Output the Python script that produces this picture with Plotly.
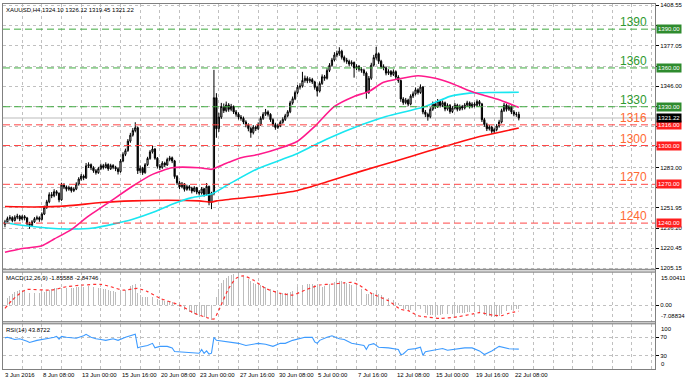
import plotly.graph_objects as go

# ---------------- text ----------------
symbol_title = "XAUUSD,H4 1324.10 1326.12 1319.45 1321.22"
macd_title = "MACD(12,26,9) -1.85588 -2.84746"
rsi_title = "RSI(14) 43.8722"
first_label = "3 Jun 2016"
time_labels = ["8 Jun 08:00", "13 Jun 00:00", "15 Jun 16:00", "20 Jun 08:00", "23 Jun 00:00",
               "27 Jun 16:00", "30 Jun 08:00", "5 Jul 00:00", "7 Jul 16:00", "12 Jul 08:00",
               "15 Jul 00:00", "19 Jul 16:00", "22 Jul 08:00"]

# ---------------- candles (H4) ----------------
opens = [1239.0,1241.0,1243.5,1244.2,1242.0,1244.5,1245.3,1243.1,1245.0,1244.0,
1239.5,1238.2,1241.0,1243.4,1244.1,1242.8,1247.0,1252.3,1256.5,1262.0,
1261.2,1264.3,1263.0,1258.0,1269.5,1268.0,1266.2,1267.4,1265.1,1266.3,
1270.2,1274.1,1276.4,1275.0,1284.3,1285.2,1282.8,1280.5,1279.0,1282.1,
1284.4,1283.0,1285.3,1282.0,1284.5,1283.2,1282.0,1279.8,1288.0,1293.2,
1296.0,1303.4,1308.0,1311.6,1313.8,1280.5,1282.4,1279.0,1285.2,1290.0,
1295.1,1297.3,1290.2,1284.0,1283.1,1286.4,1285.0,1289.2,1290.5,1288.1,
1276.0,1271.2,1268.0,1270.3,1266.1,1268.2,1267.0,1264.8,1267.3,1264.0,
1263.2,1266.5,1262.1,1268.4,1256.0,1263.0,1337.0,1313.0,1322.0,1330.2,
1327.0,1331.4,1328.0,1330.3,1326.0,1324.2,1322.0,1321.0,1318.2,1316.0,
1313.1,1310.0,1314.2,1313.0,1316.3,1321.0,1324.2,1326.0,1324.1,1320.0,
1316.2,1314.0,1315.3,1318.0,1320.2,1323.0,1326.1,1333.0,1336.2,1341.0,
1345.1,1346.0,1350.3,1352.0,1350.1,1351.0,1349.2,1345.0,1342.1,1348.0,
1353.2,1352.0,1358.1,1362.0,1366.2,1370.0,1371.1,1373.0,1368.2,1366.0,
1365.1,1363.0,1364.2,1360.0,1361.1,1359.0,1358.2,1356.0,1341.1,1352.0,
1362.2,1368.0,1371.0,1365.2,1361.0,1360.1,1356.0,1357.2,1355.0,1357.1,
1353.0,1350.2,1336.0,1333.2,1335.1,1332.0,1338.2,1340.0,1343.1,1341.0,
1345.2,1326.0,1324.1,1322.3,1328.0,1332.1,1330.0,1334.2,1331.0,1333.1,
1328.2,1331.0,1326.3,1329.0,1331.2,1328.0,1330.1,1329.0,1331.3,1333.0,
1330.2,1332.0,1331.1,1334.0,1332.2,1320.0,1316.3,1313.0,1314.2,1311.0,
1312.3,1315.0,1318.2,1327.0,1331.2,1328.0,1330.1,1326.0,1324.3,1324.10]

highs = [1242.5,1245.0,1246.1,1245.3,1246.0,1247.2,1246.4,1246.3,1246.2,1244.8,
1241.0,1242.3,1244.6,1245.8,1245.2,1248.3,1253.5,1258.0,1263.8,1264.0,
1266.2,1265.5,1263.8,1271.2,1270.8,1269.1,1268.9,1268.2,1267.8,1271.6,
1275.5,1278.0,1277.6,1286.5,1287.0,1286.1,1284.0,1281.8,1283.5,1286.0,
1285.8,1287.0,1286.2,1285.9,1285.6,1284.3,1283.0,1289.5,1294.8,1297.6,
1305.0,1309.8,1313.5,1318.0,1314.6,1284.6,1283.5,1286.4,1291.3,1296.5,
1300.2,1298.0,1291.1,1285.6,1287.9,1287.5,1290.6,1292.0,1291.5,1288.9,
1277.2,1272.5,1271.8,1271.0,1269.7,1269.4,1268.1,1268.6,1268.0,1265.5,
1267.9,1267.2,1271.0,1269.0,1264.2,1358.5,1340.5,1325.3,1333.0,1332.5,
1334.0,1332.8,1332.2,1331.0,1327.5,1325.6,1323.6,1322.4,1319.5,1317.2,
1314.3,1315.8,1315.4,1317.9,1322.6,1325.8,1328.3,1327.2,1325.0,1321.1,
1317.6,1316.9,1319.4,1321.8,1324.5,1327.4,1334.6,1337.9,1342.5,1346.8,
1348.2,1357.0,1354.1,1353.5,1352.8,1352.3,1350.1,1346.3,1349.6,1355.0,
1354.6,1359.8,1363.7,1367.8,1372.2,1373.4,1376.0,1374.1,1369.6,1367.8,
1366.4,1365.9,1365.0,1362.8,1362.3,1360.6,1359.4,1357.2,1353.8,1364.0,
1370.1,1376.3,1372.0,1366.3,1362.8,1361.2,1359.0,1358.4,1358.9,1358.0,
1354.4,1351.0,1337.4,1336.8,1336.2,1339.6,1341.8,1344.9,1344.3,1347.3,
1346.0,1327.5,1325.4,1329.6,1334.0,1333.5,1336.0,1335.3,1334.8,1334.0,
1332.6,1332.1,1330.5,1332.9,1332.3,1331.7,1331.4,1332.8,1334.6,1334.1,
1333.5,1333.4,1335.6,1335.2,1333.0,1321.4,1317.6,1315.9,1315.3,1313.9,
1316.6,1319.9,1328.5,1333.0,1332.4,1331.6,1331.0,1327.4,1326.0,1326.12]

lows = [1236.8,1240.2,1242.0,1240.6,1241.2,1243.0,1241.5,1242.2,1242.1,1237.9,
1235.6,1237.0,1240.1,1242.2,1241.0,1242.0,1246.2,1251.0,1255.4,1259.3,
1260.0,1261.2,1256.1,1257.2,1266.3,1264.5,1265.0,1263.6,1264.0,1265.5,
1269.0,1272.8,1273.2,1274.1,1282.6,1281.0,1278.9,1277.5,1278.1,1281.0,
1281.5,1282.2,1280.4,1281.1,1281.7,1280.2,1277.6,1279.0,1287.1,1291.8,
1295.2,1302.1,1306.9,1310.2,1278.0,1278.8,1277.3,1278.2,1284.1,1289.0,
1293.8,1289.0,1282.2,1281.0,1282.0,1283.3,1284.2,1287.8,1286.4,1274.3,
1269.6,1266.2,1266.9,1264.4,1265.0,1265.2,1263.0,1263.9,1262.3,1261.4,
1262.0,1260.5,1261.0,1253.8,1250.8,1261.5,1306.0,1310.5,1320.6,1325.2,
1325.8,1326.1,1326.5,1324.4,1322.3,1320.1,1319.2,1316.5,1314.1,1311.0,
1306.0,1308.6,1311.2,1312.0,1315.1,1319.8,1322.9,1322.4,1318.3,1314.5,
1312.2,1312.8,1314.2,1316.9,1319.0,1321.8,1325.0,1331.6,1335.1,1339.7,
1343.3,1344.8,1348.6,1348.2,1348.5,1347.6,1343.2,1338.0,1341.0,1346.9,
1350.1,1351.0,1356.8,1360.9,1365.0,1368.2,1369.4,1366.5,1364.3,1363.2,
1361.1,1361.6,1352.5,1358.4,1357.2,1356.3,1353.9,1336.2,1339.9,1350.8,
1361.0,1366.4,1363.1,1359.4,1358.2,1354.3,1354.6,1353.1,1353.8,1351.2,
1348.5,1333.8,1331.5,1331.9,1330.4,1331.1,1336.7,1338.8,1339.4,1340.0,
1324.2,1322.0,1319.2,1321.1,1326.8,1328.3,1329.0,1329.4,1329.7,1326.5,
1327.0,1324.6,1325.1,1327.8,1326.4,1326.8,1327.3,1327.9,1329.8,1328.6,
1328.9,1329.5,1330.0,1330.6,1318.2,1314.5,1311.2,1311.6,1309.0,1309.6,
1311.0,1313.8,1317.1,1325.9,1326.3,1326.7,1324.3,1322.6,1322.2,1319.45]

closes = [1241.0,1243.5,1244.2,1242.0,1244.5,1245.3,1243.1,1245.0,1244.0,1239.5,
1238.2,1241.0,1243.4,1244.1,1242.8,1247.0,1252.3,1256.5,1262.0,1261.2,
1264.3,1263.0,1258.0,1269.5,1268.0,1266.2,1267.4,1265.1,1266.3,1270.2,
1274.1,1276.4,1275.0,1284.3,1285.2,1282.8,1280.5,1279.0,1282.1,1284.4,
1283.0,1285.3,1282.0,1284.5,1283.2,1282.0,1279.8,1288.0,1293.2,1296.0,
1303.4,1308.0,1311.6,1313.8,1280.5,1282.4,1279.0,1285.2,1290.0,1295.1,
1297.3,1290.2,1284.0,1283.1,1286.4,1285.0,1289.2,1290.5,1288.1,1276.0,
1271.2,1268.0,1270.3,1266.1,1268.2,1267.0,1264.8,1267.3,1264.0,1263.2,
1266.5,1262.1,1268.4,1256.0,1263.0,1337.0,1313.0,1322.0,1330.2,1327.0,
1331.4,1328.0,1330.3,1326.0,1324.2,1322.0,1321.0,1318.2,1316.0,1313.1,
1310.0,1314.2,1313.0,1316.3,1321.0,1324.2,1326.0,1324.1,1320.0,1316.2,
1314.0,1315.3,1318.0,1320.2,1323.0,1326.1,1333.0,1336.2,1341.0,1345.1,
1346.0,1350.3,1352.0,1350.1,1351.0,1349.2,1345.0,1342.1,1348.0,1353.2,
1352.0,1358.1,1362.0,1366.2,1370.0,1371.1,1373.0,1368.2,1366.0,1365.1,
1363.0,1364.2,1360.0,1361.1,1359.0,1358.2,1356.0,1341.1,1352.0,1362.2,
1368.0,1371.0,1365.2,1361.0,1360.1,1356.0,1357.2,1355.0,1357.1,1353.0,
1350.2,1336.0,1333.2,1335.1,1332.0,1338.2,1340.0,1343.1,1341.0,1345.2,
1326.0,1324.1,1322.3,1328.0,1332.1,1330.0,1334.2,1331.0,1333.1,1328.2,
1331.0,1326.3,1329.0,1331.2,1328.0,1330.1,1329.0,1331.3,1333.0,1330.2,
1332.0,1331.1,1334.0,1332.2,1320.0,1316.3,1313.0,1314.2,1311.0,1312.3,
1315.0,1318.2,1327.0,1331.2,1328.0,1330.1,1326.0,1324.3,1324.1,1321.22]

# ---------------- moving averages (bar index, value) ----------------
ma_pink_idx = [0,6,15,20,27,33,43,52,60,68,79,84,86,91,96,103,112,119,126,134,142,148,154,160,168,175,181,188,194,201,208,209]
ma_pink_val = [1217.4,1220.0,1222.5,1227.7,1235.0,1244.0,1257.0,1268.7,1277.7,1282.8,1282.8,1281.6,1283.0,1287.0,1290.5,1293.0,
               1298.0,1303.3,1314.8,1330.2,1338.0,1341.8,1348.9,1351.5,1354.0,1352.0,1348.5,1343.0,1339.2,1335.4,1330.2,1329.5]
ma_cyan_idx = [0,6,15,27,36,44,52,60,68,76,84,91,103,118,131,145,155,171,181,189,198,209]
ma_cyan_val = [1240.5,1238.5,1236.6,1235.4,1236.2,1239.2,1243.0,1248.2,1254.6,1259.7,1262.5,1270.0,1282.3,1293.0,1305.0,
               1316.0,1322.5,1330.2,1338.0,1340.5,1341.0,1341.2]
ma_red_idx = [0,12,25,39,52,66,79,84,86,91,104,118,132,145,159,172,182,192,203,209]
ma_red_val = [1252.8,1252.5,1253.3,1255.9,1257.2,1257.7,1257.2,1256.3,1257.2,1258.3,1261.0,1264.8,1272.5,1280.2,1288.0,
              1295.6,1301.0,1306.4,1311.0,1313.5]

# ---------------- MACD ----------------
macd_main = [2.5,3.2,4.2,5.3,6.2,6.8,7.3,7.2,6.8,6.2,
5.6,5.5,5.6,5.7,5.6,5.8,6.2,6.7,7.3,7.5,
7.8,7.8,7.2,7.8,8.0,8.1,8.2,8.2,8.2,8.3,
8.5,8.6,8.6,8.9,9.0,8.9,8.6,8.2,8.0,7.9,
7.6,7.4,7.0,6.8,6.5,6.2,5.9,6.1,6.6,7.3,
8.2,9.0,9.5,9.7,5.8,4.6,3.9,3.7,3.7,3.8,
3.8,3.4,2.8,2.4,2.2,1.9,1.9,1.8,1.6,0.6,
-0.3,-1.1,-1.6,-2.3,-2.8,-3.3,-3.7,-4.0,-4.4,-4.8,
-5.0,-5.4,-5.5,-6.2,-7.08834,-1.5,3.9,7.6,10.2,11.6,
12.5,13.4,14.0,14.6,15.00411,14.8,14.4,13.8,13.0,12.2,
11.2,10.5,10.0,9.6,9.3,9.0,8.7,8.2,7.6,7.2,
6.6,6.2,5.8,5.6,5.6,5.6,6.0,6.8,7.5,8.3,
9.0,9.6,10.0,10.1,10.0,9.9,9.6,9.0,8.9,8.7,
8.8,9.2,9.7,10.2,10.8,11.2,11.2,11.1,10.8,10.4,
10.1,9.6,8.8,8.5,8.0,7.6,6.8,5.4,5.3,5.6,
5.8,5.6,5.0,4.6,4.0,3.5,3.1,2.6,2.2,1.6,
0.9,-0.6,-1.6,-2.0,-2.5,-2.4,-2.3,-2.0,-2.0,-1.8,
-3.0,-3.8,-4.4,-4.6,-4.6,-4.5,-4.4,-4.4,-4.3,-4.4,
-4.3,-4.4,-4.2,-4.0,-3.9,-3.8,-3.7,-3.6,-3.4,-3.4,
-3.3,-3.2,-3.0,-3.0,-3.7,-4.4,-5.0,-5.3,-5.6,-5.7,
-5.4,-5.0,-4.1,-3.2,-2.8,-2.4,-2.3,-2.1,-1.95,-1.85588]
signal_idx = [0,3,7,9,19,25,32,39,43,48,54,58,63,71,77,82,85,87,91,94,97,101,106,112,117,122,128,133,138,141,
              144,149,156,161,164,168,172,177,184,190,193,199,202,205,209]
signal_val = [-1.5,2.4,6.3,7.3,7.0,8.6,9.4,9.7,8.6,7.0,7.8,6.3,3.2,0.0,-3.8,-5.8,-6.5,-2.3,7.8,12.5,13.7,11.7,7.8,5.5,4.7,
              7.0,9.4,9.8,10.4,10.6,9.4,5.5,2.0,-2.0,-2.6,-5.0,-5.6,-6.2,-5.5,-4.2,-3.5,-4.8,-4.9,-3.8,-2.84746]

# ---------------- RSI ----------------
rsi_idx = [0,1,4,6,9,10,13,16,18,20,21,22,23,25,29,32,33,35,37,39,41,44,46,49,51,53,54,55,58,60,61,63,66,68,69,74,77,79,
           80,81,82,83,84,85,86,90,93,95,98,100,103,106,109,112,114,117,120,122,125,126,127,128,131,133,136,138,141,144,
           146,147,148,150,152,156,159,160,161,162,164,167,169,170,171,174,176,178,180,184,187,190,193,195,198,201,203,205,209]
rsi_val = [68.7,70,65.3,66.7,61.3,58.7,63.3,65.3,68,70,72,66,72,70,68,73.3,76.7,70,66.7,65.3,63.3,66.7,63.3,70,74,77,46.7,
           48.7,52,56.7,46.7,50,50,46.7,38.7,36.7,36,34.7,43.3,34.7,40,33,35,70,63.3,60,58,56.7,52,53.3,56.7,54.7,50,56.7,
           56.7,63.3,66.7,70,70,60,56.7,63.3,70,73.3,66.7,65.3,56.7,54.7,52,43.3,53.3,56,48,46.7,45,43.3,32,33.3,43.3,45,
           48,30,38,41.3,43.3,45.3,41.3,44,46.7,46.7,40,32,40,50,46.7,44.7,43.87]

# ---------------- levels / ticks ----------------
resistance_levels = [1390, 1360, 1330]
support_levels = [1316, 1300, 1270, 1240]
bid_price = 1321.22
price_ticks = [1408.55, 1392.80, 1377.05, 1361.50, 1346.00, 1330.45, 1314.70, 1299.00, 1283.00,
               1267.70, 1251.95, 1236.20, 1220.45, 1205.15]
price_tick_text = ["1408.55", "", "1377.05", "", "1346.00", "", "", "", "1283.00",
                   "", "1251.95", "1236.20", "1220.45", "1205.15"]
macd_max = 15.00411
macd_min = -7.08834
rsi_levels = [70, 30]

# ---------------- layout geometry ----------------
W, H = 685, 383
ML, MR, MT, MB = 2, 27, 2, 14
PH = H - MT - MB
PW = W - ML - MR


def py(p):
    return (H - MB - p) / PH


def pxf(p):
    return (p - ML) / PW


FONT = "Liberation Sans"
GRID = "#c0c0c0"
green_line, green_text, green_box = "#3faa3f", "#2f9a2f", "#2e8b2e"
red_line, red_text, red_box = "#ff4545", "#ff6a33", "#ff1e1e"

n = len(closes)
idx = list(range(n))
x_range = [-0.8, 264.4]
grid_x = list(range(7, 265, 8))

fig = go.Figure()

fig.add_trace(go.Candlestick(
    x=idx, open=opens, high=highs, low=lows, close=closes,
    increasing=dict(line=dict(color="#000000", width=1), fillcolor="#ffffff"),
    decreasing=dict(line=dict(color="#000000", width=1), fillcolor="#000000"),
    whiskerwidth=0, xaxis="x", yaxis="y", showlegend=False, hoverinfo="skip"))

for mi, mv, col in [(ma_red_idx, ma_red_val, "#ff1010"),
                    (ma_cyan_idx, ma_cyan_val, "#19e6f0"),
                    (ma_pink_idx, ma_pink_val, "#ff1a8c")]:
    fig.add_trace(go.Scatter(x=mi, y=mv, mode="lines", xaxis="x", yaxis="y",
                             line=dict(color=col, width=1.6, shape="spline", smoothing=0.6),
                             showlegend=False, hoverinfo="skip"))

fig.add_trace(go.Bar(x=idx, y=macd_main, xaxis="x2", yaxis="y2", width=0.32,
                     marker=dict(color="#bdbdbd", line=dict(width=0)),
                     showlegend=False, hoverinfo="skip"))
fig.add_trace(go.Scatter(x=signal_idx, y=signal_val, mode="lines", xaxis="x2", yaxis="y2",
                         line=dict(color="#ff3030", width=1.2, dash="dot", shape="spline", smoothing=0.6),
                         showlegend=False, hoverinfo="skip"))

fig.add_trace(go.Scatter(x=rsi_idx, y=rsi_val, mode="lines", xaxis="x3", yaxis="y3",
                         line=dict(color="#3d9bff", width=1.1),
                         showlegend=False, hoverinfo="skip"))

axis_common = dict(showgrid=True, gridcolor=GRID, griddash="dot", gridwidth=1, zeroline=False,
                   showline=True, mirror=True, linecolor="#808080", linewidth=1)

xcommon = dict(axis_common, range=x_range, tickmode="array", tickvals=grid_x,
               showticklabels=False, ticks="")

ycommon = dict(axis_common, side="right", ticks="outside", ticklen=3, tickcolor="#000000",
               tickfont=dict(family=FONT, size=6, color="#000000"), fixedrange=True)

main_dom = [py(269), 1.0]
macd_dom = [py(321.5), py(271.5)]
rsi_dom = [0.0, py(323.5)]

macd_scale = (320.0 - 272.5) / (macd_max - macd_min)
macd_range = [macd_min - 1.5 / macd_scale, macd_max + 1.0 / macd_scale]

fig.update_layout(
    width=W, height=H,
    margin=dict(l=ML, r=MR, t=MT, b=MB),
    paper_bgcolor="#ffffff", plot_bgcolor="#ffffff",
    font=dict(family=FONT, size=6, color="#000000"),
    hovermode=False, showlegend=False, bargap=0,
    xaxis=dict(xcommon, domain=[0, 1], anchor="y", rangeslider=dict(visible=False)),
    xaxis2=dict(xcommon, domain=[0, 1], anchor="y2", matches="x"),
    xaxis3=dict(xcommon, domain=[0, 1], anchor="y3", matches="x"),
    yaxis=dict(ycommon, domain=main_dom, anchor="x", range=[1204.08, 1409.46],
               tickmode="array", tickvals=price_ticks, ticktext=price_tick_text),
    yaxis2=dict(ycommon, domain=macd_dom, anchor="x2", range=macd_range,
                tickmode="array", tickvals=[0], ticktext=["0.00"]),
    yaxis3=dict(ycommon, domain=rsi_dom, anchor="x3", range=[0, 100],
                tickmode="array", tickvals=rsi_levels, ticktext=[str(v) for v in rsi_levels]),
)

shapes = []
for lv in resistance_levels:
    shapes.append(dict(type="line", xref="paper", yref="y", x0=0, x1=1, y0=lv, y1=lv,
                       line=dict(color=green_line, width=1, dash="7px,4px"), layer="above"))
for lv in support_levels:
    shapes.append(dict(type="line", xref="paper", yref="y", x0=0, x1=1, y0=lv, y1=lv,
                       line=dict(color=red_line, width=1, dash="7px,4px"), layer="above"))
shapes.append(dict(type="line", xref="paper", yref="y", x0=0, x1=1, y0=bid_price, y1=bid_price,
                   line=dict(color="#d2d2d2", width=1.5), layer="below"))
for top, bot in [(268.8, 271.6), (321.4, 323.6)]:
    shapes.append(dict(type="rect", xref="paper", yref="paper", x0=pxf(1.5), x1=pxf(658.5),
                       y0=py(bot), y1=py(top), fillcolor="#d8d8d8",
                       line=dict(color="#808080", width=1), layer="above"))

annotations = []
tf = dict(family=FONT, size=6, color="#000000")
annotations.append(dict(text=symbol_title, xref="paper", yref="paper", x=0, y=1, xanchor="left",
                        yanchor="top", xshift=1, yshift=-1, showarrow=False, font=tf))
annotations.append(dict(text=macd_title, xref="paper", yref="paper", x=0, y=py(271.6), xanchor="left",
                        yanchor="top", xshift=1, yshift=-1, showarrow=False, font=tf))
annotations.append(dict(text=rsi_title, xref="paper", yref="paper", x=0, y=py(323.6), xanchor="left",
                        yanchor="top", xshift=1, yshift=-1, showarrow=False, font=tf))

for lv in resistance_levels:
    annotations.append(dict(text=str(lv), xref="paper", yref="y", x=pxf(652), y=lv, xanchor="right",
                            yanchor="bottom", yshift=-2, showarrow=False,
                            font=dict(family=FONT, size=12, color=green_text)))
for lv in support_levels:
    annotations.append(dict(text=str(lv), xref="paper", yref="y", x=pxf(652), y=lv, xanchor="right",
                            yanchor="bottom", yshift=-2, showarrow=False,
                            font=dict(family=FONT, size=12, color=red_text)))

box_font = dict(family=FONT, size=6, color="#ffffff")
for lv in resistance_levels:
    annotations.append(dict(text=f"{lv:.2f}", xref="paper", yref="y", x=1, y=lv, xanchor="left",
                            yanchor="middle", xshift=1, showarrow=False, bgcolor=green_box,
                            borderpad=1, font=box_font))
for lv in support_levels:
    annotations.append(dict(text=f"{lv:.2f}", xref="paper", yref="y", x=1, y=lv, xanchor="left",
                            yanchor="middle", xshift=1, showarrow=False, bgcolor=red_box,
                            borderpad=1, font=box_font))
annotations.append(dict(text=f"{bid_price:.2f}", xref="paper", yref="y", x=1, y=bid_price, xanchor="left",
                        yanchor="middle", xshift=1, showarrow=False, bgcolor="#000000",
                        borderpad=1, font=box_font))

annotations.append(dict(text=f"{macd_max:.5f}", xref="paper", yref="y2", x=1, y=macd_max, xanchor="left",
                        yanchor="top", xshift=4, showarrow=False, font=tf))
annotations.append(dict(text=f"{macd_min:.5f}", xref="paper", yref="y2", x=1, y=macd_min, xanchor="left",
                        yanchor="bottom", xshift=4, yshift=-1, showarrow=False, font=tf))
annotations.append(dict(text="100", xref="paper", yref="y3", x=1, y=100, xanchor="left",
                        yanchor="top", xshift=4, showarrow=False, font=tf))
annotations.append(dict(text="0", xref="paper", yref="y3", x=1, y=0, xanchor="left",
                        yanchor="bottom", xshift=4, showarrow=False, font=tf))

annotations.append(dict(text=first_label, xref="paper", yref="paper", x=0, y=0, xanchor="left",
                        yanchor="top", yshift=-1, showarrow=False, font=tf))
for k, lab in enumerate(time_labels):
    annotations.append(dict(text=lab, xref="x3", yref="paper", x=15 + 16 * k, y=0, xanchor="left",
                            yanchor="top", xshift=-1, yshift=-1, showarrow=False, font=tf))

fig.update_layout(shapes=shapes, annotations=annotations)

fig.write_html("out.html", config={"displayModeBar": False, "staticPlot": True},
               post_script="document.body.style.margin='0px';document.body.style.padding='0px';"
                           "document.body.style.overflow='hidden';")
